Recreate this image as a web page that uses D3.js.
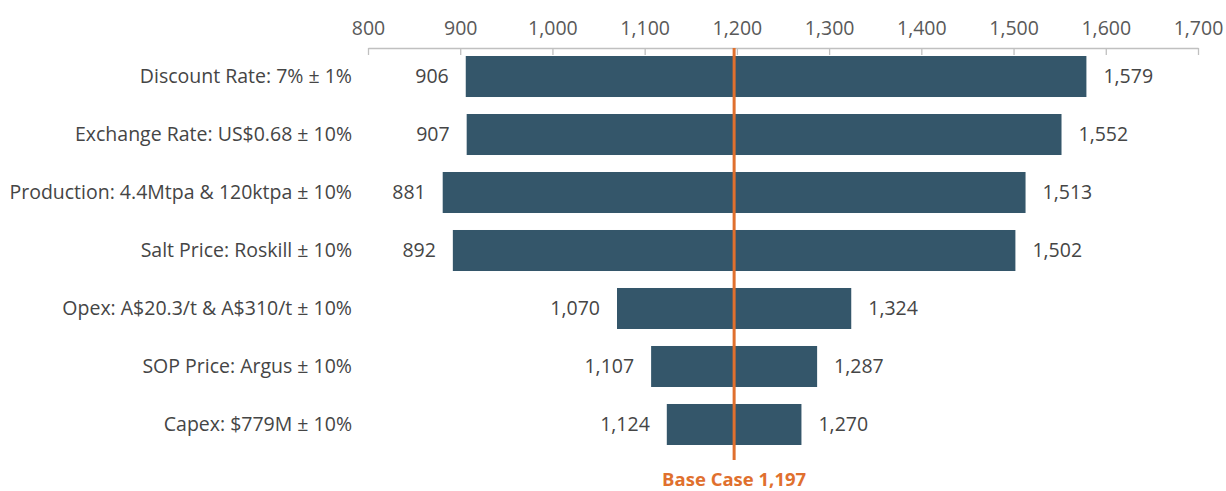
<!DOCTYPE html>
<html>
<head>
<meta charset="utf-8">
<script src="https://cdn.jsdelivr.net/npm/d3@7"></script>
<style>
  html, body { margin: 0; padding: 0; background: #ffffff; }
  svg { display: block; font-family: "Open Sans", sans-serif; }
</style>
</head>
<body>
<svg id="chart" width="1226" height="491"></svg>
<script>
// NPV sensitivity (tornado) — low / high outcome for each driver
const categories = [
  "Discount Rate: 7% ± 1%",
  "Exchange Rate: US$0.68 ± 10%",
  "Production: 4.4Mtpa & 120ktpa ± 10%",
  "Salt Price: Roskill ± 10%",
  "Opex: A$20.3/t & A$310/t ± 10%",
  "SOP Price: Argus ± 10%",
  "Capex: $779M ± 10%"
];
const lowValues  = [906, 907, 881, 892, 1070, 1107, 1124];
const highValues = [1579, 1552, 1513, 1502, 1324, 1287, 1270];
const baseCase = 1197;
const tickValues = [800, 900, 1000, 1100, 1200, 1300, 1400, 1500, 1600, 1700];

const rows = categories.map((c, i) => ({ cat: c, low: lowValues[i], high: highValues[i] }));

const svg = d3.select("#chart");
const fmt = d3.format(",");
const FS = 19.5;

const x = d3.scaleLinear().domain([800, 1700]).range([368, 1198]);
const y = d3.scaleBand().domain(categories).range([48, 453])
  .paddingInner(0.293).paddingOuter(0.138);

// top axis with ticks pointing down into the plot
const axis = d3.axisTop(x).tickValues(tickValues).tickFormat(fmt)
  .tickSizeInner(-7).tickSizeOuter(0).tickPadding(13);
const gAxis = svg.append("g").attr("transform", "translate(0,48)").call(axis);
gAxis.select(".domain").attr("stroke", "#c0c0c0").attr("stroke-width", 1.3);
gAxis.selectAll(".tick line").attr("stroke", "#c0c0c0").attr("stroke-width", 1.3);
gAxis.selectAll(".tick text").attr("fill", "#595959").attr("font-size", FS)
  .attr("font-family", "Open Sans, sans-serif");

// bars
svg.append("g").selectAll("rect").data(rows).join("rect")
  .attr("x", d => x(d.low))
  .attr("y", d => y(d.cat))
  .attr("width", d => x(d.high) - x(d.low))
  .attr("height", y.bandwidth())
  .attr("fill", "#34566a");

// category labels
svg.append("g").selectAll("text").data(rows).join("text")
  .attr("x", 352)
  .attr("y", d => y(d.cat) + y.bandwidth() / 2)
  .attr("dy", "0.35em")
  .attr("text-anchor", "end")
  .attr("fill", "#454545")
  .attr("font-size", FS)
  .text(d => d.cat);

// low value labels
svg.append("g").selectAll("text").data(rows).join("text")
  .attr("x", d => x(d.low) - 17)
  .attr("y", d => y(d.cat) + y.bandwidth() / 2)
  .attr("dy", "0.35em")
  .attr("text-anchor", "end")
  .attr("fill", "#454545")
  .attr("font-size", FS)
  .text(d => fmt(d.low));

// high value labels
svg.append("g").selectAll("text").data(rows).join("text")
  .attr("x", d => x(d.high) + 17)
  .attr("y", d => y(d.cat) + y.bandwidth() / 2)
  .attr("dy", "0.35em")
  .attr("text-anchor", "start")
  .attr("fill", "#454545")
  .attr("font-size", FS)
  .text(d => fmt(d.high));

// base case marker
svg.append("line")
  .attr("x1", x(baseCase)).attr("x2", x(baseCase))
  .attr("y1", 48).attr("y2", 460)
  .attr("stroke", "#e0702e").attr("stroke-width", 3);

svg.append("text")
  .attr("x", x(baseCase))
  .attr("y", 480)
  .attr("dy", "0.35em")
  .attr("text-anchor", "middle")
  .attr("fill", "#e0702e")
  .attr("font-size", 18.5)
  .attr("font-weight", "bold")
  .text("Base Case " + fmt(baseCase));
</script>
</body>
</html>
